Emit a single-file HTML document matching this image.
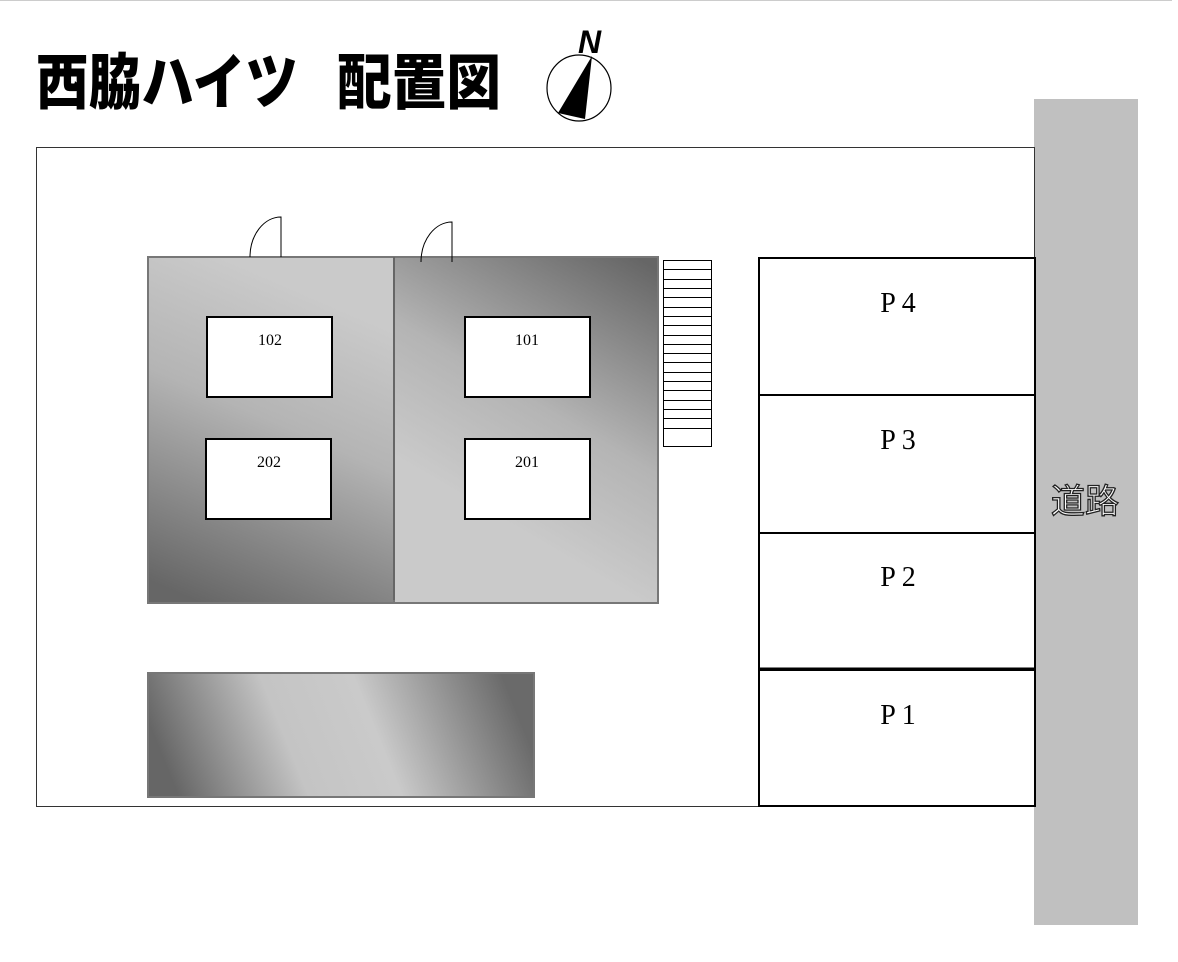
<!DOCTYPE html>
<html><head><meta charset="utf-8"><style>
html,body{margin:0;padding:0;background:#fff;width:1178px;height:962px;overflow:hidden}
</style></head><body>
<svg width="1178" height="962" viewBox="0 0 1178 962" xmlns="http://www.w3.org/2000/svg">
<defs>
<linearGradient id="gL" gradientUnits="userSpaceOnUse" x1="300" y1="290" x2="170" y2="590">
<stop offset="0" stop-color="#cacaca"/><stop offset="0.4" stop-color="#b4b4b4"/><stop offset="1" stop-color="#666"/></linearGradient>
<linearGradient id="gR" gradientUnits="userSpaceOnUse" x1="650" y1="265" x2="500" y2="520">
<stop offset="0" stop-color="#666"/><stop offset="0.6" stop-color="#b4b4b4"/><stop offset="1" stop-color="#cacaca"/></linearGradient>
<linearGradient id="gB" gradientUnits="userSpaceOnUse" x1="180" y1="800" x2="500" y2="670">
<stop offset="0" stop-color="#666"/><stop offset="0.35" stop-color="#c4c4c4"/><stop offset="0.6" stop-color="#cacaca"/><stop offset="1" stop-color="#6a6a6a"/></linearGradient>
</defs>
<line x1="0" y1="0.5" x2="1172" y2="0.5" stroke="#ccc"/>
<g transform="translate(0,106) scale(1,1.12) translate(0,-106)">
<text x="36" y="104" textLength="262" lengthAdjust="spacingAndGlyphs" font-family="'Noto Sans CJK JP',sans-serif" font-weight="900" font-size="54" fill="#000">西脇ハイツ</text>
<text x="337" y="104" textLength="164" lengthAdjust="spacingAndGlyphs" font-family="'Noto Sans CJK JP',sans-serif" font-weight="900" font-size="54" fill="#000">配置図</text>
</g>
<ellipse cx="579" cy="88" rx="32" ry="33" fill="none" stroke="#000" stroke-width="1.2"/>
<polygon points="592,56 558,113 585,119" fill="#000"/>
<text x="578" y="53" font-family="'Liberation Sans',sans-serif" font-weight="bold" font-style="italic" font-size="32" fill="#000">N</text>
<rect x="1034" y="99" width="104" height="826" fill="#c0c0c0"/>
<text x="1085" y="513" text-anchor="middle" font-family="'Noto Sans CJK JP',sans-serif" font-size="34" fill="#fff" stroke="#222" stroke-width="1.3">道路</text>
<rect x="36.5" y="147.5" width="998" height="659" fill="none" stroke="#333" stroke-width="1"/>
<rect x="148" y="257" width="246" height="346" fill="url(#gL)" stroke="#777" stroke-width="2"/>
<rect x="394" y="257" width="264" height="346" fill="url(#gR)" stroke="#777" stroke-width="2"/>
<line x1="394" y1="257" x2="394" y2="600" stroke="#555" stroke-width="1"/>
<path d="M250,257 A31,40 0 0 1 281,217 L281,257" fill="none" stroke="#000" stroke-width="1"/>
<path d="M421,262 A31,40 0 0 1 452,222 L452,262" fill="none" stroke="#000" stroke-width="1"/>
<g fill="#fff" stroke="#000" stroke-width="2">
<rect x="207" y="317" width="125" height="80"/><rect x="465" y="317" width="125" height="80"/>
<rect x="206" y="439" width="125" height="80"/><rect x="465" y="439" width="125" height="80"/>
</g>
<g font-family="'Liberation Serif',serif" font-size="16" text-anchor="middle" fill="#000">
<text x="270" y="345">102</text><text x="527" y="345">101</text>
<text x="269" y="467">202</text><text x="527" y="467">201</text>
</g>
<rect x="663.5" y="260.5" width="48" height="186" fill="#fff" stroke="#000"/>
<g stroke="#000" stroke-width="1">
<line x1="663" x2="711" y1="269.5" y2="269.5"/><line x1="663" x2="711" y1="279.5" y2="279.5"/>
<line x1="663" x2="711" y1="288.5" y2="288.5"/><line x1="663" x2="711" y1="297.5" y2="297.5"/>
<line x1="663" x2="711" y1="307.5" y2="307.5"/><line x1="663" x2="711" y1="316.5" y2="316.5"/>
<line x1="663" x2="711" y1="325.5" y2="325.5"/><line x1="663" x2="711" y1="335.5" y2="335.5"/>
<line x1="663" x2="711" y1="344.5" y2="344.5"/><line x1="663" x2="711" y1="353.5" y2="353.5"/>
<line x1="663" x2="711" y1="362.5" y2="362.5"/><line x1="663" x2="711" y1="372.5" y2="372.5"/>
<line x1="663" x2="711" y1="381.5" y2="381.5"/><line x1="663" x2="711" y1="390.5" y2="390.5"/>
<line x1="663" x2="711" y1="400.5" y2="400.5"/><line x1="663" x2="711" y1="409.5" y2="409.5"/>
<line x1="663" x2="711" y1="418.5" y2="418.5"/><line x1="663" x2="711" y1="428.5" y2="428.5"/>
</g>
<rect x="148" y="673" width="386" height="124" fill="url(#gB)" stroke="#777" stroke-width="2"/>
<g fill="#fff" stroke="#000" stroke-width="2">
<rect x="759" y="258" width="276" height="137"/><rect x="759" y="395" width="276" height="138"/>
<rect x="759" y="533" width="276" height="136"/><rect x="759" y="670" width="276" height="136"/>
</g>
<line x1="759" x2="1035" y1="669" y2="669" stroke="#000" stroke-width="3"/>
<g font-family="'Liberation Serif',serif" font-size="28" text-anchor="middle" fill="#000">
<text x="898" y="312">P 4</text><text x="898" y="449">P 3</text>
<text x="898" y="586">P 2</text><text x="898" y="724">P 1</text>
</g>
</svg>
</body></html>
